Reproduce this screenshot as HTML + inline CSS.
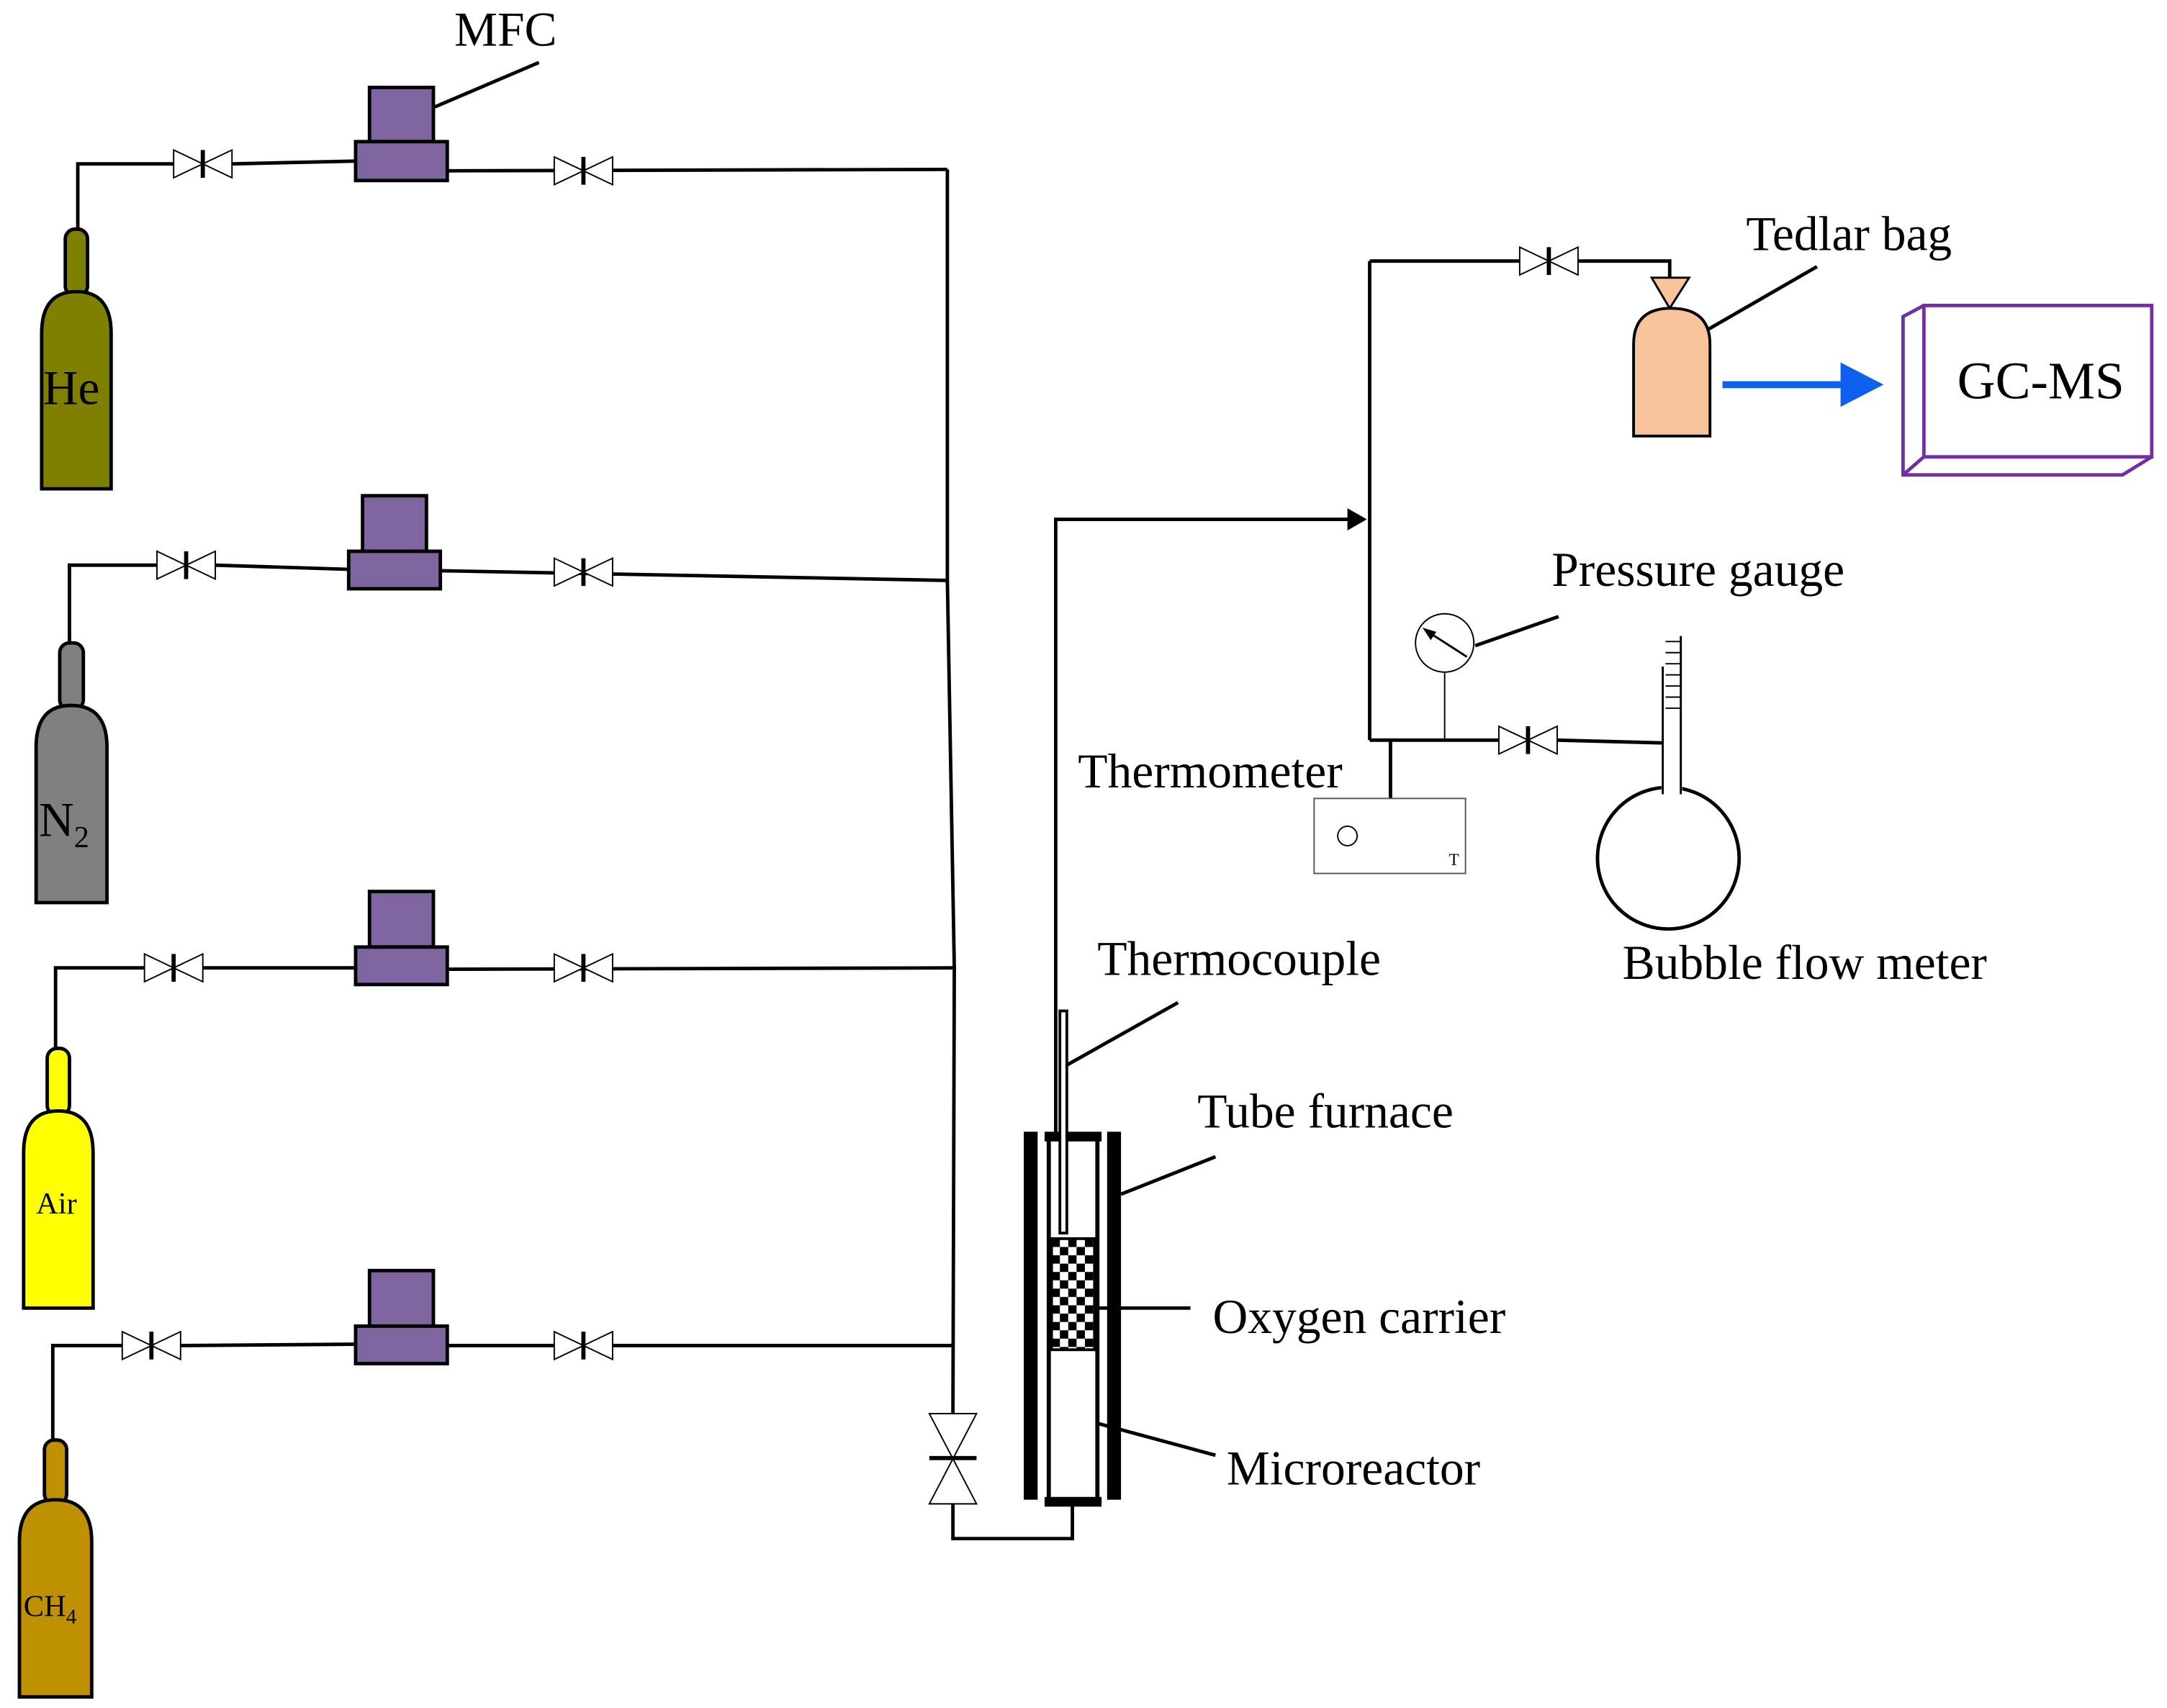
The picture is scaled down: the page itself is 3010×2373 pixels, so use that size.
<!DOCTYPE html>
<html><head><meta charset="utf-8"><style>html,body{margin:0;padding:0;background:#fff}svg{display:block}</style></head>
<body>
<svg width="3010" height="2373" viewBox="0 0 1560 1230" preserveAspectRatio="none" xmlns="http://www.w3.org/2000/svg" font-family="Liberation Serif, serif">
<defs>
<g id="v"><path d="M-21,-10 L21,10 L21,-10 L-21,10 Z" fill="#fff" stroke="#000" stroke-width="1"/><line x1="0" y1="-10" x2="0" y2="10" stroke="#000" stroke-width="3"/></g>
</defs>
<g stroke="#000" stroke-width="2.5" fill="none">
<polyline points="56,165 56,118 125,118"/><line x1="167" y1="118" x2="256" y2="116"/><line x1="322" y1="123" x2="682" y2="122"/>
<polyline points="50,463 50,407 113,407"/><line x1="155" y1="407" x2="251" y2="410"/><line x1="317" y1="411" x2="682" y2="418"/>
<polyline points="40,755 40,697 104,697"/><line x1="146" y1="697" x2="256" y2="697"/><line x1="322" y1="698" x2="687" y2="697"/>
<polyline points="38,1037 38,969 88,969"/><line x1="130" y1="969" x2="256" y2="968"/><line x1="322" y1="969" x2="686" y2="969"/>
<polyline points="682,122 682,418 687,697 686,1018"/>
<polyline points="686,1083 686,1108 772,1108 772,1082"/>
<polyline points="760,818 760,374 972,374"/>
<line x1="986" y1="188" x2="986" y2="533"/>
<polyline points="986,188 1094,188"/><polyline points="1136,188 1202,188 1202,200"/>
<line x1="986" y1="533" x2="1079" y2="533"/><line x1="1121" y1="533" x2="1197" y2="535"/>
<line x1="1040" y1="484" x2="1040" y2="533" stroke-width="1"/>
<line x1="1001" y1="533" x2="1001" y2="575"/>
<line x1="313" y1="77" x2="388" y2="45"/>
<line x1="1230" y1="237" x2="1308" y2="192"/>
<line x1="1062" y1="465" x2="1122" y2="444"/>
<line x1="768" y1="767" x2="848" y2="722"/>
<line x1="807" y1="860" x2="875" y2="833"/>
<line x1="790" y1="942" x2="857" y2="942"/>
<line x1="790" y1="1025" x2="875" y2="1048"/>
</g>
<polygon points="970,366 984,374 970,382" fill="#000"/>
<use href="#v" x="146" y="118"/><use href="#v" x="420" y="123"/>
<use href="#v" x="134" y="407"/><use href="#v" x="420" y="412"/>
<use href="#v" x="125" y="697"/><use href="#v" x="420" y="697"/>
<use href="#v" x="109" y="969"/><use href="#v" x="420" y="969"/>
<use href="#v" x="1115" y="188"/><use href="#v" x="1100" y="533"/>
<g><path d="M669,1018 L703,1018 L669,1083 L703,1083 Z" fill="#fff" stroke="#000" stroke-width="1"/><line x1="669" y1="1050" x2="703" y2="1050" stroke="#000" stroke-width="3"/></g>
<g fill="#7f659f" stroke="#000" stroke-width="2.5">
<rect x="266" y="63" width="46" height="39"/><rect x="256" y="102" width="66" height="28"/>
<rect x="261" y="357" width="46" height="40"/><rect x="251" y="397" width="66" height="27"/>
<rect x="266" y="642" width="46" height="40"/><rect x="256" y="682" width="66" height="27"/>
<rect x="266" y="915" width="46" height="40"/><rect x="256" y="955" width="66" height="27"/>
</g>
<g stroke="#000" stroke-width="2.5">
<rect x="47" y="165" width="16" height="48" rx="7" fill="#808000"/><path d="M30,352 L30,240 Q30,210 55,210 Q80,210 80,240 L80,352 Z" fill="#808000"/>
<rect x="43" y="463" width="17" height="48" rx="7" fill="#808080"/><path d="M26,650 L26,538 Q26,508 51,508 Q77,508 77,538 L77,650 Z" fill="#808080"/>
<rect x="34" y="755" width="16" height="48" rx="7" fill="#ffff00"/><path d="M17,942 L17,830 Q17,800 42,800 Q67,800 67,830 L67,942 Z" fill="#ffff00"/>
<rect x="32" y="1037" width="16" height="46" rx="7" fill="#bf9000"/><path d="M14,1222 L14,1110 Q14,1080 40,1080 Q66,1080 66,1110 L66,1222 Z" fill="#bf9000"/>
</g>
<rect x="737" y="815" width="10" height="265" fill="#000"/><rect x="797" y="815" width="10" height="265" fill="#000"/>
<rect x="755" y="818" width="35" height="264" fill="#fff" stroke="#000" stroke-width="3"/>
<rect x="752" y="815" width="41" height="7" fill="#000"/><rect x="752" y="1078" width="41" height="7" fill="#000"/>
<pattern id="ck" width="12" height="12" patternUnits="userSpaceOnUse" x="757" y="892"><rect width="12" height="12" fill="#fff"/><rect width="6" height="6" fill="#000"/><rect x="6" y="6" width="6" height="6" fill="#000"/></pattern>
<rect x="757" y="892" width="31" height="80" fill="url(#ck)" stroke="#000" stroke-width="2"/>
<rect x="763" y="728" width="5" height="160" fill="#fff" stroke="#000" stroke-width="2"/>
<polygon points="1189,200 1216,200 1202,222" fill="#f8c49c" stroke="#000" stroke-width="1.5"/>
<path d="M1176,314 L1176,248 Q1176,222 1203,222 Q1231,222 1231,248 L1231,314 Z" fill="#f8c49c" stroke="#000" stroke-width="2"/>
<line x1="1240" y1="277" x2="1328" y2="277" stroke="#1060f0" stroke-width="5"/><polygon points="1325,261 1356,277 1325,293" fill="#1060f0"/>
<g fill="none" stroke="#7030a0" stroke-width="2.5"><rect x="1385" y="220" width="164" height="109"/><polyline points="1385,220 1370,228 1370,342 1528,342 1549,329"/><line x1="1370" y1="342" x2="1385" y2="329"/></g>
<circle cx="1040" cy="463" r="21" fill="#fff" stroke="#000" stroke-width="1"/><line x1="1028" y1="455" x2="1056" y2="473" stroke="#000" stroke-width="1.5"/><polygon points="1024,452 1034,455 1030,461" fill="#000"/>
<rect x="946" y="575" width="109" height="54" fill="#fff" stroke="#555" stroke-width="1"/><circle cx="970" cy="602" r="7" fill="none" stroke="#000" stroke-width="1"/>
<text x="1043" y="623" font-size="12">T</text>
<g stroke="#000" stroke-width="1"><line x1="1199" y1="462" x2="1210" y2="462"/><line x1="1199" y1="470" x2="1210" y2="470"/><line x1="1199" y1="478" x2="1210" y2="478"/><line x1="1199" y1="486" x2="1210" y2="486"/><line x1="1199" y1="494" x2="1210" y2="494"/><line x1="1199" y1="502" x2="1210" y2="502"/><line x1="1199" y1="510" x2="1210" y2="510"/></g>
<circle cx="1201" cy="618" r="51" fill="#fff" stroke="#000" stroke-width="2.5"/>
<rect x="1196" y="560" width="15" height="12" fill="#fff"/>
<line x1="1197" y1="480" x2="1197" y2="572" stroke="#000" stroke-width="1.5"/><line x1="1210" y1="458" x2="1210" y2="572" stroke="#000" stroke-width="1.5"/>
<g font-size="35" fill="#000">
<text x="327" y="33">MFC</text>
<text x="1257" y="180">Tedlar bag</text>
<text x="1409" y="287" font-size="38">GC-MS</text>
<text x="1117" y="422">Pressure gauge</text>
<text x="776" y="567">Thermometer</text>
<text x="1168" y="705">Bubble flow meter</text>
<text x="790" y="702">Thermocouple</text>
<text x="862" y="812">Tube furnace</text>
<text x="873" y="960">Oxygen carrier</text>
<text x="883" y="1069">Microreactor</text>
<text x="31" y="291">He</text>
<text x="28" y="602">N<tspan font-size="22" dy="8">2</tspan></text>
</g>
<text x="26" y="874" font-size="22">Air</text>
<text x="17" y="1164" font-size="22">CH<tspan font-size="15" dy="5">4</tspan></text>
</svg>
</body></html>
